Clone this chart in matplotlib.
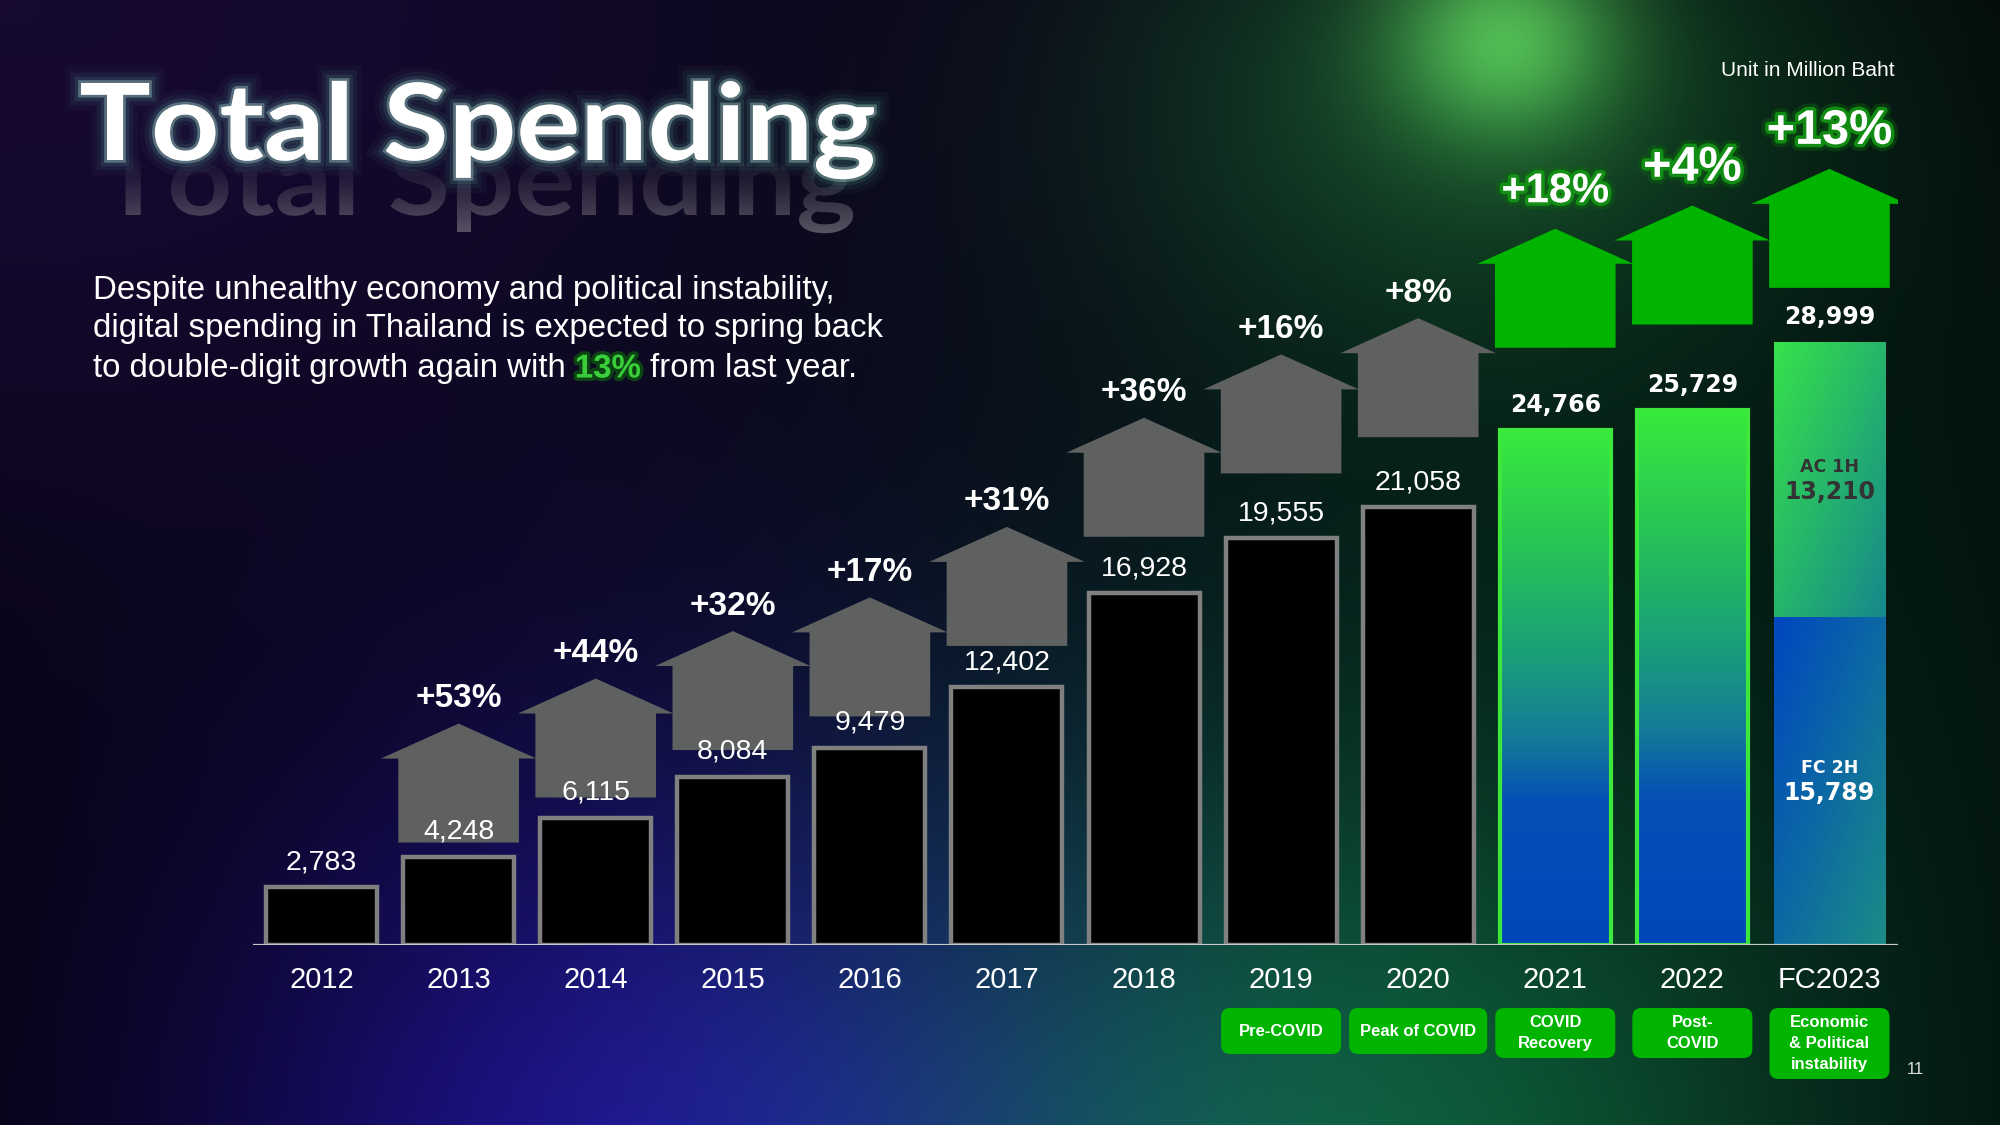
import numpy as np
import matplotlib
matplotlib.use("Agg")
import matplotlib.pyplot as plt
from matplotlib import patheffects as pe
from matplotlib.patches import Polygon, FancyBboxPatch, PathPatch
from matplotlib.textpath import TextPath
from matplotlib.font_manager import FontProperties
from matplotlib.transforms import Affine2D
from matplotlib.colors import LinearSegmentedColormap, to_rgb

# data
years = ['2012', '2013', '2014', '2015', '2016', '2017', '2018', '2019',
         '2020', '2021', '2022', 'FC2023']
spending = [2783, 4248, 6115, 8084, 9479, 12402, 16928, 19555, 21058,
            24766, 25729, 28999]
growth = [None, 53, 44, 32, 17, 31, 36, 16, 8, 18, 4, 13]
fc_parts = [15789, 13210]          # bottom (FC 2H), top (AC 1H)
fc_names = ['FC 2H', 'AC 1H']
stage_years = ['2019', '2020', '2021', '2022', 'FC2023']
stages = ['Pre-COVID', 'Peak of COVID', 'COVID\nRecovery', 'Post-\nCOVID',
          'Economic\n& Political\ninstability']
n_gray = 9   # bars up to 2020 drawn as outlines

plt.rcParams['font.family'] = ['Liberation Sans', 'DejaVu Sans']

W, H = 2000, 1125
fig = plt.figure(figsize=(20, 11.25), dpi=100)

# ---- background glow
bg = fig.add_axes([0, 0, 1, 1], zorder=-10)
bg.set_axis_off()
ny, nx = 225, 400
yy, xx = np.mgrid[0:ny, 0:nx]
xx = (xx + 0.5) * W / nx
yy = (yy + 0.5) * H / ny
img = np.zeros((ny, nx, 3)) + np.array([3, 3, 8]) / 255


def blob(cx, cy, sx, sy, rgb):
    g = np.exp(-0.5 * (((xx - cx) / sx) ** 2 + ((yy - cy) / sy) ** 2))
    return g[..., None] * np.array(rgb) / 255


img += blob(0, 0, 700, 450, (20, 6, 42))
img += blob(650, 1200, 330, 330, (26, 10, 130))
img += blob(1330, 1200, 360, 320, (10, 88, 45))
img += blob(1650, 520, 500, 420, (0, 20, 9))
img += blob(1505, 40, 80, 70, (62, 120, 48))
img += blob(1470, 90, 240, 180, (14, 55, 20))
img = np.clip(img, 0, 1)
bg.imshow(img, extent=[0, W, H, 0], aspect='auto', interpolation='bilinear')

# ---- chart axes (pixel-calibrated)
L, R, BASE = 253, 1898, 945
PXU = 0.02079          # pixels per million baht
YMAX = 45000
ax = fig.add_axes([L / W, (H - BASE) / H, (R - L) / W, YMAX * PXU / H])
ax.set_axis_off()
ax.patch.set_alpha(0)
x = np.arange(len(years))
bw = 0.81

ax.bar(x[:n_gray], spending[:n_gray], width=bw, color='black',
       edgecolor='#808080', linewidth=3.2, zorder=3)


def vgrad(stops, n=256):
    cmap = LinearSegmentedColormap.from_list('g', stops)
    return cmap(np.linspace(0, 1, n))[:, None, :3]


bar_grad = vgrad([(0, '#38EA3C'), (0.25, '#25BF5A'), (0.45, '#1A9C7C'),
                  (0.6, '#137A98'), (0.72, '#0650B5'), (1, '#0047BB')])
for i in range(n_gray, len(years) - 1):
    ax.imshow(bar_grad, extent=[i - bw / 2, i + bw / 2, 0, spending[i]],
              aspect='auto', zorder=2, interpolation='bilinear')
ax.bar(x[n_gray:-1], spending[n_gray:-1], width=bw, facecolor='none',
       edgecolor='#3CE83C', linewidth=3, zorder=3)


def dgrad(c0, c1, ny=200, nx=60):
    v, u = np.mgrid[0:1:ny * 1j, 0:1:nx * 1j]
    t = np.clip(0.5 * u + 0.5 * v, 0, 1)[..., None]
    c0, c1 = np.array(to_rgb(c0)), np.array(to_rgb(c1))
    return c0 + (c1 - c0) * t


k = len(years) - 1
ax.imshow(dgrad('#0046C0', '#1A8C86'),
          extent=[k - bw / 2, k + bw / 2, 0, fc_parts[0]],
          aspect='auto', zorder=2, interpolation='bilinear')
ax.imshow(dgrad('#36E24A', '#16888C'),
          extent=[k - bw / 2, k + bw / 2, fc_parts[0], fc_parts[0] + fc_parts[1]],
          aspect='auto', zorder=2, interpolation='bilinear')

ax.axhline(0, color='#c8c8c8', lw=1.6, zorder=4)

# ---- growth houses
BODY, ROOF = 84 / PXU, 35 / PXU
HB, HR = 0.88, 1.135
for i in range(1, len(years)):
    lift = 1.09 if years[i].startswith('FC') else 1.16
    yb = spending[i] * lift
    yt = yb + BODY
    pts = [(i - HB / 2, yb), (i + HB / 2, yb), (i + HB / 2, yt), (i + HR / 2, yt),
           (i, yt + ROOF), (i - HR / 2, yt), (i - HB / 2, yt)]
    green = i >= n_gray
    ax.add_patch(Polygon(pts, closed=True, lw=0, zorder=5 + i * 0.01,
                         facecolor='#00B400' if green else '#5F6060'))
    label = '+%d%%' % growth[i]
    if green:
        size = 30 if i == n_gray else 35
        ax.annotate(label, (i, yt + ROOF), xytext=(0, 27), textcoords='offset points',
                    ha='center', va='center', fontsize=size, fontweight='bold',
                    color='white', zorder=8,
                    path_effects=[pe.Stroke(linewidth=10, foreground='#0a6e0a', alpha=0.35),
                                  pe.Stroke(linewidth=5, foreground='#139a13', alpha=0.85),
                                  pe.Normal()])
    else:
        ax.annotate(label, (i, yt + ROOF), xytext=(0, 18), textcoords='offset points',
                    ha='center', va='center', fontsize=24, fontweight='bold',
                    color='white', zorder=8)

# ---- value labels and years
for i, v in enumerate(spending):
    if i < n_gray:
        ax.annotate(f'{v:,}', (i, v), xytext=(0, 18), textcoords='offset points',
                    ha='center', va='center', fontsize=20.5, color='white', zorder=9)
    else:
        ax.annotate(f'{v:,}', (i, v), xytext=(0, 18), textcoords='offset points',
                    ha='center', va='center', fontsize=17, fontweight='bold',
                    family='DejaVu Sans', color='white', zorder=9)
    ax.annotate(years[i], (i, 0), xytext=(0, -25), textcoords='offset points',
                ha='center', va='center', fontsize=21, color='white')

ymid_top = fc_parts[0] + fc_parts[1] / 2
ymid_bot = fc_parts[0] / 2
for ymid, name, val, col in [(ymid_top, fc_names[1], fc_parts[1], '#333333'),
                             (ymid_bot, fc_names[0], fc_parts[0], 'white')]:
    ax.annotate(name, (k, ymid), xytext=(0, 9), textcoords='offset points',
                ha='center', va='center', fontsize=12.5, fontweight='bold',
                family='DejaVu Sans', color=col, zorder=9)
    ax.annotate(f'{val:,}', (k, ymid), xytext=(0, -9), textcoords='offset points',
                ha='center', va='center', fontsize=17, fontweight='bold',
                family='DejaVu Sans', color=col, zorder=9)

ax.set_xlim(-0.5, len(years) - 0.5)
ax.set_ylim(0, YMAX)

# ---- title with glow and faded echo (drawn as paths, fitted to the box)
title = 'Total Spending'
tprop = FontProperties(family='Lato', weight='bold')
tp = TextPath((0, 0), title, size=100, prop=tprop)
ext = tp.get_extents()
cap = TextPath((0, 0), 'T', size=100, prop=tprop).get_extents().height
sx, sy = 793 / ext.width, 77 / cap
main_tr = Affine2D().translate(-ext.x0, 0).scale(sx, -sy).translate(81, 160) + bg.transData

sc = 0.95
echo_tr = (Affine2D().translate(-ext.x0, 0).scale(sx * sc, -sy * sc)
           .translate(81 + 793 * (1 - sc) / 2, 215) + bg.transData)
echo = PathPatch(tp, transform=echo_tr, lw=0, facecolor='none')
ramp = np.zeros((100, 2, 4))
ramp[..., :3] = to_rgb('#7c7682')
ramp[..., 3] = np.linspace(0.0, 0.9, 100)[:, None] ** 1.3
im = bg.imshow(ramp, extent=[60, 900, 250, 150], aspect='auto', zorder=2)
im.set_clip_path(echo)

glow = '#6fdcc4'
bg.add_patch(PathPatch(tp, transform=main_tr, facecolor='white', lw=0, zorder=5,
                       path_effects=[pe.Stroke(linewidth=22, foreground=glow, alpha=0.035),
                                     pe.Stroke(linewidth=15, foreground=glow, alpha=0.06),
                                     pe.Stroke(linewidth=9, foreground=glow, alpha=0.11),
                                     pe.Stroke(linewidth=4, foreground='#d0fff2', alpha=0.3),
                                     pe.Normal()]))
bg.set_xlim(0, W)
bg.set_ylim(H, 0)

# ---- subtitle
sub = dict(fontsize=23.8, color='white', va='center', ha='left', zorder=5)
bg.text(93, 290, 'Despite unhealthy economy and political instability,', **sub)
bg.text(93, 329, 'digital spending in Thailand is expected to spring back', **sub)
t3 = bg.text(93, 369, 'to double-digit growth again with', **sub)
t4 = bg.annotate('13%', xy=(1, 0), xycoords=t3, xytext=(6.5, 0), textcoords='offset points',
                 va='bottom', ha='left', fontsize=23.8, fontweight='bold', color='#3ACF3A',
                 path_effects=[pe.Stroke(linewidth=5, foreground='#0c4a12', alpha=0.9),
                               pe.Normal()])
bg.annotate('from last year.', xy=(1, 0), xycoords=t4, xytext=(6.5, 0),
            textcoords='offset points', va='bottom', ha='left', fontsize=23.8, color='white')

bg.text(1895, 71, 'Unit in Million Baht', fontsize=15, color='white', ha='right', va='center')
bg.text(1915, 1069, '11', fontsize=12, color='#dddddd', ha='center', va='center')

# ---- stage boxes
fig.canvas.draw()
rend = fig.canvas.get_renderer()
for name, yr in zip(stages, stage_years):
    i = years.index(yr)
    xc = ax.transData.transform((i, 0))[0]
    t = bg.text(xc, 0, name, ha='center', va='center', fontsize=12, fontweight='bold',
                color='white', linespacing=1.5, zorder=6)
    bb = t.get_window_extent(rend)
    bw_px = max(bb.width + 22, 120)
    bh_px = max(bb.height + 14, 46)
    top = 1008
    t.set_position((xc, top + bh_px / 2))
    bg.add_patch(FancyBboxPatch((xc - bw_px / 2, top), bw_px, bh_px,
                                boxstyle='round,pad=0,rounding_size=9',
                                facecolor='#00B400', edgecolor='none', zorder=5))

fig.savefig('out.png', dpi=100, facecolor='black')
